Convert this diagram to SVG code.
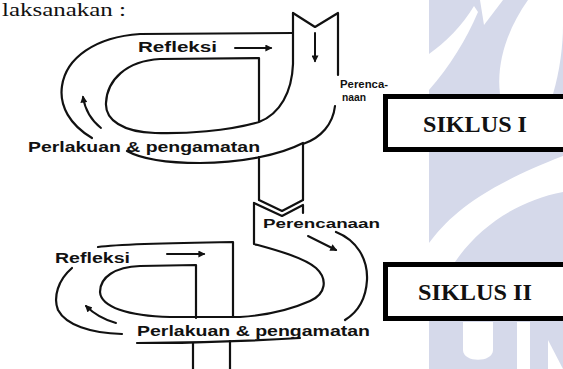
<svg xmlns="http://www.w3.org/2000/svg" width="563" height="369" viewBox="0 0 563 369">
  <defs>
    <marker id="head" viewBox="0 0 10 10" refX="8" refY="5" markerWidth="8" markerHeight="7" markerUnits="userSpaceOnUse" orient="auto">
      <path d="M0,0 L10,5 L0,10 Z" fill="#111"/>
    </marker>
  </defs>
  <style>
    .ln{fill:none;stroke:#111;stroke-width:2.2;stroke-linecap:round;stroke-linejoin:round}
    .ar{fill:none;stroke:#111;stroke-width:2;stroke-linecap:round;marker-end:url(#head)}
    .lbl{font-family:"Liberation Sans",Arial,sans-serif;font-weight:bold;fill:#111}
    .box{fill:#fff;stroke:#000;stroke-width:5}
    .ttl{font-family:"Liberation Serif","Times New Roman",serif;font-weight:bold;font-size:24px;fill:#111}
    .wm{fill:#d5d9ea}
    .wh{fill:#fff}
  </style>

  <rect x="0" y="0" width="563" height="369" fill="#fff"/>

  <!-- faint logo band on the right -->
  <g id="watermark">
    <rect class="wm" x="429" y="0" width="134" height="369"/>
    <path class="wh" d="M480,0 L503,0 L484,25 Z"/>
    <path class="wh" d="M429,54 C446,42 462,26 474,6 L478,12 C466,40 450,66 429,90 Z"/>
    <path class="wh" d="M528,0 C508,28 496,62 500,94 L553,94 C560,70 563,45 563,25 L563,0 Z"/>
    <path class="wh" d="M429,243 C450,215 480,188 563,156 L563,192 C520,200 480,225 455,262 L429,262 Z"/>
    <path class="wh" d="M463,322 L463,350 C463,363 493,363 493,350 L493,322 Z"/>
    <path class="wh" d="M517,322 L530,322 L530,369 L517,369 Z"/>
    <path class="wh" d="M548,340 L563,369 L548,369 Z"/>
  </g>

  <!-- running text above the figure -->
  <text x="2" y="16" font-family="'Liberation Serif','Times New Roman',serif" font-size="18" textLength="124" lengthAdjust="spacingAndGlyphs" fill="#111">laksanakan :</text>

  <g id="connectors">
    <!-- cycle I -->
    <path class="ln" d="M92,138 C70,125 59,106 62,86 C66,58 95,37 140,34 L293,33"/>
    <path class="ln" d="M293,13 L293,64 C292,92 280,114 259,122 C228,131 185,134 155,133 C123,132 105,120 106,103 C107,80 126,61 160,59 L259,58 L259,122"/>
    <path class="ln" d="M293,13 L315,27 L338,13 L338,75"/>
    <path class="ln" d="M335,106 C333,124 321,138 303,144 L303,200"/>
    <path class="ln" d="M127,151 C145,161 172,163 200,163 C240,163 280,155 303,143"/>
    <path class="ln" d="M259,157 L259,200"/>
    <path class="ln" d="M259,200 L282,211 L303,200"/>
    <path class="ar" d="M235,48 L271,48"/>
    <path class="ar" d="M315,33 L315,61"/>
    <path class="ar" d="M101,128 Q86,116 83,97"/>

    <!-- cycle II -->
    <path class="ln" d="M254,203 L282,216 L303,205 L303,213"/>
    <path class="ln" d="M254,203 L254,244 C272,249 303,257 316,268 C328,279 326,294 310,301 C292,309 272,315 240,317 L170,317 C128,316 101,307 100,292 C100,277 115,267 140,266 L196,265 L196,318"/>
    <path class="ln" d="M98,247 C120,244 160,243 233,242 L233,317"/>
    <path class="ln" d="M72,268 C58,280 53,297 58,310 C66,325 90,333 122,334"/>
    <path class="ln" d="M336,232 C356,240 368,258 367,280 C366,298 358,312 345,320"/>
    <path class="ln" d="M137,343 C180,343 250,341 300,338"/>
    <path class="ln" d="M193,343 L193,369"/>
    <path class="ln" d="M230,341 L230,369"/>
    <path class="ar" d="M167,254 L204,254"/>
    <path class="ar" d="M308,236 L336,250"/>
    <path class="ar" d="M116,323 Q98,318 86,306"/>
  </g>

  <g id="c1-refleksi"><text class="lbl" x="138" y="52" font-size="14" textLength="79" lengthAdjust="spacingAndGlyphs">Refleksi</text></g>
  <g id="c1-perencanaan">
    <text class="lbl" x="340" y="88" font-size="11" textLength="48" lengthAdjust="spacingAndGlyphs">Perenca-</text>
    <text class="lbl" x="342" y="101" font-size="11" textLength="24" lengthAdjust="spacingAndGlyphs">naan</text>
  </g>
  <g id="c1-perlakuan"><text class="lbl" x="28" y="152" font-size="14" textLength="232" lengthAdjust="spacingAndGlyphs">Perlakuan &amp; pengamatan</text></g>

  <g id="c2-refleksi"><text class="lbl" x="55" y="263" font-size="14" textLength="75" lengthAdjust="spacingAndGlyphs">Refleksi</text></g>
  <g id="c2-perencanaan"><text class="lbl" x="263" y="228" font-size="13" textLength="117" lengthAdjust="spacingAndGlyphs">Perencanaan</text></g>
  <g id="c2-perlakuan"><text class="lbl" x="137" y="336" font-size="14" textLength="233" lengthAdjust="spacingAndGlyphs">Perlakuan &amp; pengamatan</text></g>

  <g id="siklus-1">
    <rect class="box" x="385.5" y="96.5" width="190" height="53"/>
    <text class="ttl" x="423" y="132" textLength="104" lengthAdjust="spacingAndGlyphs">SIKLUS I</text>
  </g>
  <g id="siklus-2">
    <rect class="box" x="385.5" y="264.5" width="190" height="54"/>
    <text class="ttl" x="418" y="300" textLength="114" lengthAdjust="spacingAndGlyphs">SIKLUS II</text>
  </g>
</svg>
